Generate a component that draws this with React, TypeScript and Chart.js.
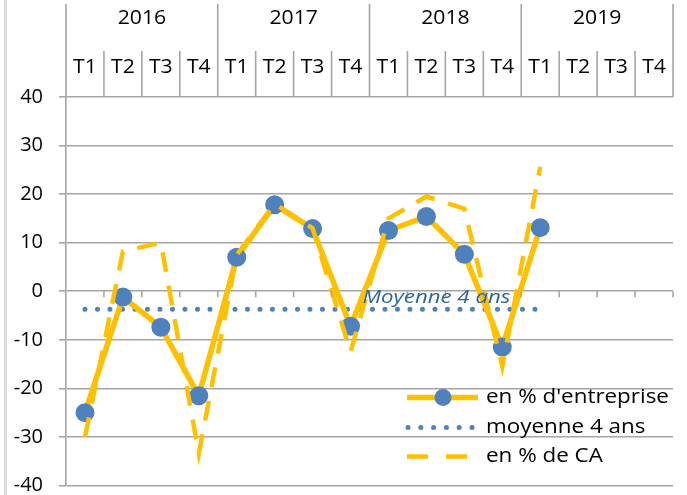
import { useEffect, useRef } from "react";
import { Chart, registerables } from "chart.js";

Chart.register(...registerables);

const years = ["2016", "2017", "2018", "2019"];
const quarters = ["T1", "T2", "T3", "T4"];
const categories = years.flatMap((y) => quarters.map((q) => `${q} ${y}`));

const entreprise = [-25, -1.2, -7.4, -21.5, 7, 17.8, 12.9, -7.2, 12.5, 15.4, 7.6, -11.5, 13.1, null, null, null];
const moyenne = [-3.7, -3.7, -3.7, -3.7, -3.7, -3.7, -3.7, -3.7, -3.7, -3.7, -3.7, -3.7, -3.7, null, null, null];
const pctCA = [-30, 8.2, 10, -33.4, 7.5, 18, 13, -12.5, 15, 19.5, 17, -15.5, 25.6, null, null, null];

const yMin = -40;
const yMax = 40;
const yStep = 10;

const legendLabels = ["en % d'entreprise", "moyenne 4 ans", "en % de CA"];
const annotationText = "Moyenne 4 ans";

const FONT = "'Open Sans', Lato, sans-serif";
const GRID = "#A5A5A5";
const ORANGE = "#FFC000";
const BLUE = "#4F81BD";

function stretchedText(ctx: any, text: string, x: number, y: number, sx: number) {
  ctx.save();
  ctx.translate(x, y);
  ctx.scale(sx, 1);
  ctx.fillText(text, 0, 0);
  ctx.restore();
}

const decorPlugin = {
  id: "decor",
  beforeDraw(chart: any) {
    const { ctx } = chart;
    ctx.save();
    ctx.fillStyle = "#ffffff";
    ctx.fillRect(0, 0, chart.width, chart.height);
    ctx.fillStyle = "#DCDCDC";
    ctx.fillRect(4, 0, 3, chart.height);
    ctx.restore();
  },
  afterDraw(chart: any) {
    const { ctx, chartArea: area, scales } = chart;
    const xs = scales.x;
    const ys = scales.y;
    const n = categories.length;
    const w = (area.right - area.left) / n;
    const bound = (k: number) => area.left + k * w;

    ctx.save();
    ctx.strokeStyle = GRID;
    ctx.lineWidth = 1.6;
    for (let k = 0; k <= n; k++) {
      const x = bound(k);
      ctx.beginPath();
      ctx.moveTo(x, k % 4 === 0 ? 4 : 51);
      ctx.lineTo(x, area.top);
      ctx.stroke();
    }
    const y0 = ys.getPixelForValue(0);
    for (let k = 1; k <= n; k++) {
      const x = bound(k);
      ctx.beginPath();
      ctx.moveTo(x, y0);
      ctx.lineTo(x, y0 + 6);
      ctx.stroke();
    }

    ctx.fillStyle = "#000";
    ctx.textAlign = "center";
    ctx.textBaseline = "middle";
    ctx.font = `20px ${FONT}`;
    years.forEach((yr, i) => {
      stretchedText(ctx, yr, bound(i * 4 + 2), 18, 1.06);
    });
    categories.forEach((_, i) => {
      stretchedText(ctx, quarters[i % 4], xs.getPixelForValue(i), 67, 1.06);
    });

    // annotation
    ctx.font = `italic 19px ${FONT}`;
    ctx.fillStyle = "#2A6797";
    ctx.textAlign = "left";
    ctx.textBaseline = "alphabetic";
    stretchedText(ctx, annotationText, xs.getPixelForValue(8) - 26, ys.getPixelForValue(moyenne[0] as number) - 6, 1.17);

    // legend
    const lx = area.right - 266;
    const rows = [area.bottom - 88, area.bottom - 58, area.bottom - 29];
    ctx.lineCap = "butt";
    ctx.strokeStyle = ORANGE;
    ctx.lineWidth = 5.5;
    ctx.beginPath();
    ctx.moveTo(lx, rows[0]);
    ctx.lineTo(lx + 71, rows[0]);
    ctx.stroke();
    ctx.fillStyle = BLUE;
    ctx.beginPath();
    ctx.arc(lx + 36, rows[0], 8.5, 0, Math.PI * 2);
    ctx.fill();
    for (let d = 0; d < 6; d++) {
      ctx.beginPath();
      ctx.arc(lx + 1 + d * 12.8, rows[1], 2.5, 0, Math.PI * 2);
      ctx.fill();
    }
    ctx.strokeStyle = ORANGE;
    ctx.lineWidth = 4.5;
    ctx.beginPath();
    ctx.moveTo(lx, rows[2]);
    ctx.lineTo(lx + 21, rows[2]);
    ctx.moveTo(lx + 39, rows[2]);
    ctx.lineTo(lx + 60, rows[2]);
    ctx.stroke();

    ctx.fillStyle = "#000";
    ctx.font = `20px ${FONT}`;
    ctx.textBaseline = "middle";
    legendLabels.forEach((t, i) => stretchedText(ctx, t, lx + 79, rows[i], 1.12));
    ctx.restore();
  },
};

export default function App() {
  const ref = useRef<HTMLCanvasElement | null>(null);

  useEffect(() => {
    if (!ref.current) return;
    const chart = new Chart(ref.current, {
      type: "line",
      data: {
        labels: categories,
        datasets: [
          {
            label: legendLabels[0],
            data: entreprise,
            borderColor: ORANGE,
            borderWidth: 5.5,
            pointRadius: 9.5,
            pointBackgroundColor: BLUE,
            pointBorderColor: BLUE,
            pointBorderWidth: 0,
            tension: 0,
            order: 2,
          },
          {
            label: legendLabels[1],
            data: moyenne,
            borderColor: BLUE,
            borderWidth: 5,
            borderDash: [0, 12.5],
            borderCapStyle: "round",
            pointRadius: 0,
            order: 3,
          },
          {
            label: legendLabels[2],
            data: pctCA,
            borderColor: ORANGE,
            borderWidth: 4.5,
            borderDash: [20, 14],
            pointRadius: 0,
            tension: 0,
            order: 1,
          },
        ],
      } as any,
      options: {
        responsive: false,
        animation: false,
        layout: { padding: { left: 0, right: 14, top: 97, bottom: 8 } },
        plugins: {
          legend: { display: false },
          tooltip: { enabled: false },
          title: { display: false },
        },
        scales: {
          x: { display: false, offset: true },
          y: {
            min: yMin,
            max: yMax,
            ticks: { stepSize: yStep, color: "#000", font: { family: FONT, size: 20 }, padding: 16 },
            grid: { color: GRID, lineWidth: 1.6, tickLength: 7 },
            border: { color: GRID, width: 1.6 },
            afterFit(s: any) {
              s.width = 66;
              s.paddingTop = 0;
              s.paddingBottom = 0;
            },
          },
        },
      } as any,
      plugins: [decorPlugin],
    });
    return () => chart.destroy();
  }, []);

  return (
    <div style={{ position: "absolute", left: 0, top: 0, width: 687, height: 495, background: "#fff" }}>
      <canvas ref={ref} width={687} height={495} style={{ display: "block" }} />
    </div>
  );
}
